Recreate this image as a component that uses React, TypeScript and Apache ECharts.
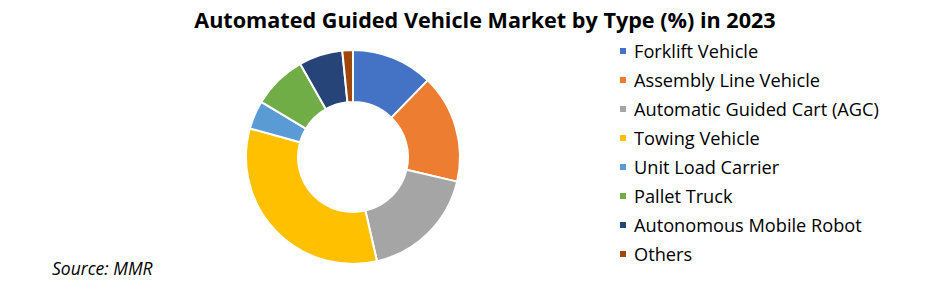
import React, { useEffect, useRef } from "react";
import * as echarts from "echarts";

const categories = [
  "Forklift Vehicle",
  "Assembly Line Vehicle",
  "Automatic Guided Cart (AGC)",
  "Towing Vehicle",
  "Unit Load Carrier",
  "Pallet Truck",
  "Autonomous Mobile Robot",
  "Others",
];
const shares = [12.3, 16.4, 17.7, 32.9, 4.3, 8.2, 6.6, 1.6];
const colors = ["#4472C4", "#ED7D31", "#A5A5A5", "#FFC000", "#5B9BD5", "#70AD47", "#264478", "#9E480E"];
const titleText = "Automated Guided Vehicle Market by Type (%) in 2023";
const sourceText = "Source: MMR";

export default function App() {
  const ref = useRef<HTMLDivElement>(null);
  useEffect(() => {
    if (!ref.current) return;
    const chart = echarts.init(ref.current, undefined, { renderer: "svg" });
    chart.setOption({
      animation: false,
      backgroundColor: "#ffffff",
      color: colors,
      title: {
        text: titleText,
        left: 480,
        textAlign: "center",
        top: 3,
        textStyle: { fontFamily: "Open Sans", fontWeight: "bold", fontSize: 21.6, color: "#000" },
      },
      graphic: [
        {
          type: "text",
          left: 52,
          top: 259,
          style: { text: sourceText, fontFamily: "Open Sans", fontStyle: "italic", fontSize: 17.5, fill: "#000" },
        },
      ],
      legend: {
        orient: "vertical",
        left: 618,
        top: 41,
        padding: 0,
        itemWidth: 8,
        itemHeight: 8,
        itemGap: 9,
        icon: "rect",
        textStyle: { fontFamily: "Open Sans", fontSize: 18.2, color: "#000", padding: [0, 0, 0, 2], lineHeight: 20 },
        data: categories,
      },
      series: [
        {
          type: "pie",
          center: [353, 157],
          radius: [55, 107],
          startAngle: 90,
          clockwise: true,
          label: { show: false },
          labelLine: { show: false },
          itemStyle: { borderColor: "#ffffff", borderWidth: 2 },
          emphasis: { disabled: true },
          data: categories.map((name, i) => ({ name, value: shares[i], itemStyle: { color: colors[i] } })),
        },
      ],
    });
    return () => chart.dispose();
  }, []);
  return <div ref={ref} style={{ width: 932, height: 282, position: "absolute", left: 0, top: 0 }} />;
}
